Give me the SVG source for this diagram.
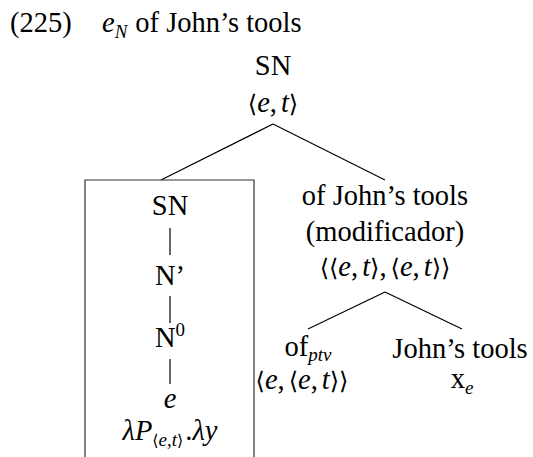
<svg xmlns="http://www.w3.org/2000/svg" width="533" height="457" viewBox="0 0 533 457">
<style>
text{font-family:'Liberation Serif',serif;font-size:28.5px;fill:#000}
.m{text-anchor:middle}
.i{font-style:italic}
.s{font-size:19px}
.b{font-family:'DejaVu Serif',serif;font-size:24px}
.bs{font-family:'DejaVu Serif',serif;font-size:16px}
.c line{stroke:#000;stroke-width:1.2}
.box{stroke:#333;stroke-width:1.2;fill:none}
</style>
<rect width="533" height="457" fill="#fff"/>
<g id="title">
<text x="10" y="32">(225)</text>
<text x="102" y="32"><tspan class="i">e</tspan><tspan class="i s" dy="6">N</tspan><tspan dy="-6" dx="8">of John’s tools</tspan></text>
</g>
<g id="connectors" class="c">
<line x1="273" y1="124" x2="161" y2="180"/>
<line x1="273" y1="124" x2="385" y2="180"/>
<line x1="385" y1="292" x2="308" y2="329"/>
<line x1="385" y1="292" x2="462" y2="329"/>
<line x1="170" y1="228" x2="170" y2="255"/>
<line x1="170" y1="296" x2="170" y2="323"/>
<line x1="170" y1="359" x2="170" y2="384"/>
</g>
<g id="root">
<text class="m" x="273" y="75">SN</text>
<text class="m" x="273" y="112"><tspan class="b">⟨</tspan><tspan class="i">e</tspan>,<tspan class="i" dx="4">t</tspan><tspan class="b">⟩</tspan></text>
</g>
<g id="box">
<path class="box" d="M85,460 V180 H254 V460"/>
</g>
<g id="sn">
<text class="m" x="170" y="215">SN</text>
</g>
<g id="nbar">
<text class="m" x="170" y="285">N’</text>
</g>
<g id="n0">
<text class="m" x="170" y="347">N<tspan class="s" dy="-11">0</tspan></text>
</g>
<g id="e">
<text class="m i" x="170" y="408">e</text>
<text class="m" x="170" y="440"><tspan class="i">λP</tspan><tspan class="bs" dy="6">⟨</tspan><tspan class="i s">e</tspan><tspan class="s">,</tspan><tspan class="i s">t</tspan><tspan class="bs">⟩</tspan><tspan dy="-6" dx="2">.</tspan><tspan class="i">λy</tspan></text>
</g>
<g id="mod">
<text class="m" x="385" y="205">of John’s tools</text>
<text class="m" x="385" y="241">(modificador)</text>
<text class="m" x="385" y="276"><tspan class="b">⟨⟨</tspan><tspan class="i">e</tspan>,<tspan class="i" dx="4">t</tspan><tspan class="b">⟩</tspan>,<tspan class="b" dx="4">⟨</tspan><tspan class="i">e</tspan>,<tspan class="i" dx="4">t</tspan><tspan class="b">⟩⟩</tspan></text>
</g>
<g id="of">
<text class="m" x="308" y="356">of<tspan class="i s" dy="5">ptv</tspan></text>
<text class="m" x="302" y="389"><tspan class="b">⟨</tspan><tspan class="i">e</tspan>,<tspan class="b" dx="4">⟨</tspan><tspan class="i">e</tspan>,<tspan class="i" dx="4">t</tspan><tspan class="b">⟩⟩</tspan></text>
</g>
<g id="jt">
<text class="m" x="460" y="358">John’s tools</text>
<text class="m" x="462" y="388">x<tspan class="i s" dy="6">e</tspan></text>
</g>
</svg>
